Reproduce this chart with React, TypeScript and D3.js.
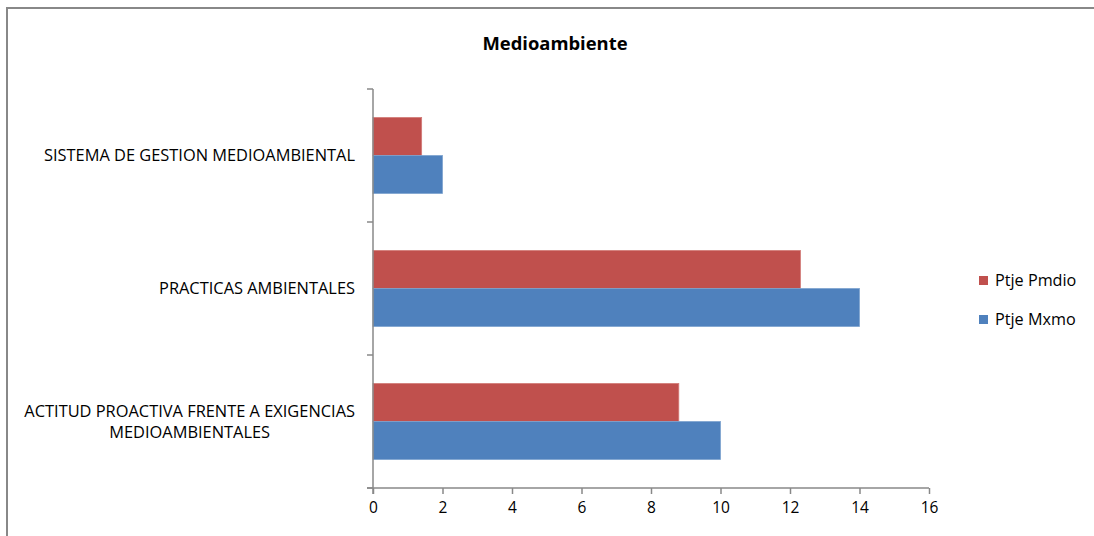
import { useRef, useEffect } from "react";
import * as d3 from "d3";

const categories = [
  "SISTEMA DE GESTION MEDIOAMBIENTAL",
  "PRACTICAS AMBIENTALES",
  "ACTITUD PROACTIVA FRENTE A EXIGENCIAS MEDIOAMBIENTALES",
];
const categoryLines = [
  ["SISTEMA DE GESTION MEDIOAMBIENTAL"],
  ["PRACTICAS AMBIENTALES"],
  ["ACTITUD PROACTIVA FRENTE A EXIGENCIAS", "MEDIOAMBIENTALES"],
];
const seriesNames = ["Ptje Pmdio", "Ptje Mxmo"];
const pmdio = [1.4, 12.3, 8.8];
const mxmo = [2, 14, 10];
const xTicks = [0, 2, 4, 6, 8, 10, 12, 14, 16];

const WIDTH = 1094;
const HEIGHT = 536;
const MARGIN = { top: 89, left: 373 };
const INNER_W = 556;
const INNER_H = 399;
const FONT = "Open Sans, sans-serif";
const COLORS = ["#C0504D", "#4F81BD"];
const STROKES = ["#D27A77", "#7EA3CF"];
const AXIS = "#888888";

export default function App() {
  const svgRef = useRef<SVGSVGElement>(null);

  useEffect(() => {
    const svg = d3.select(svgRef.current);
    svg.selectAll("*").remove();

    // chart border: only top and left edges are inside the picture
    svg.append("path")
      .attr("d", `M7,${HEIGHT}V8H${WIDTH}`)
      .attr("fill", "none")
      .attr("stroke", AXIS).attr("stroke-width", 2);

    svg.append("text")
      .attr("x", 555).attr("y", 50)
      .attr("text-anchor", "middle")
      .attr("font-family", FONT).attr("font-weight", "bold")
      .attr("font-size", "18.4px")
      .text("Medioambiente");

    const x = d3.scaleLinear().domain([0, 16]).range([0, INNER_W]);
    const y = d3.scaleBand().domain(categories).range([0, INNER_H]).paddingInner(0).paddingOuter(0);
    const inner = d3.scaleBand().domain(seriesNames).range([0, y.bandwidth()]).paddingOuter(0.75).paddingInner(0);

    const g = svg.append("g").attr("transform", `translate(${MARGIN.left},${MARGIN.top})`);

    const rows = [pmdio, mxmo];
    rows.forEach((vals, si) => {
      g.append("g")
        .selectAll("rect")
        .data(vals)
        .join("rect")
        .attr("x", x(0))
        .attr("y", (_, i) => (y(categories[i]) ?? 0) + (inner(seriesNames[si]) ?? 0))
        .attr("width", (d) => x(d) - x(0))
        .attr("height", inner.bandwidth())
        .attr("fill", COLORS[si])
        .attr("stroke", STROKES[si])
        .attr("stroke-width", 0.8);
    });

    // X axis
    g.append("g")
      .attr("transform", `translate(0,${INNER_H})`)
      .call(d3.axisBottom(x).tickValues(xTicks).tickSize(6).tickSizeOuter(0).tickPadding(8))
      .call((a) => a.select(".domain").attr("stroke", AXIS).attr("stroke-width", 1.5).attr("d", `M-6,0H${INNER_W}`))
      .call((a) => a.selectAll("line").attr("stroke", AXIS).attr("stroke-width", 1.5))
      .call((a) => a.selectAll("text").attr("fill", "#000").attr("font-size", "15.5px").attr("font-family", FONT));

    // Y axis with ticks at band boundaries
    const bounds = [0, 1, 2, 3].map((i) => i * y.step());
    const ya = g.append("g");
    ya.append("line")
      .attr("x1", 0).attr("x2", 0).attr("y1", 0).attr("y2", INNER_H + 6)
      .attr("stroke", AXIS).attr("stroke-width", 1.5);
    ya.selectAll("line.tk")
      .data(bounds)
      .join("line")
      .attr("class", "tk")
      .attr("x1", -6).attr("x2", 0)
      .attr("y1", (d) => d).attr("y2", (d) => d)
      .attr("stroke", AXIS).attr("stroke-width", 1.5);

    categoryLines.forEach((lines, i) => {
      const cy = (y(categories[i]) ?? 0) + y.bandwidth() / 2;
      const lh = 21;
      const t = g.append("text")
        .attr("text-anchor", "middle")
        .attr("font-family", FONT).attr("font-size", "16.4px")
        .attr("fill", "#000");
      lines.forEach((ln, j) => {
        t.append("tspan")
          .attr("x", 0)
          .attr("y", cy + (j - (lines.length - 1) / 2) * lh)
          .attr("dy", "0.35em")
          .text(ln);
      });
      const tspans = t.selectAll("tspan").nodes() as SVGTextContentElement[];
      const maxW = Math.max(...tspans.map((n) => n.getComputedTextLength()));
      tspans.forEach((n) => d3.select(n).attr("x", -18 - maxW / 2));
    });

    // Legend
    const lg = svg.append("g").attr("transform", "translate(979,276)");
    seriesNames.forEach((name, i) => {
      lg.append("rect")
        .attr("x", 0).attr("y", i * 39)
        .attr("width", 9).attr("height", 9)
        .attr("fill", COLORS[i]);
      lg.append("text")
        .attr("x", 16).attr("y", i * 39 + 4.5)
        .attr("dy", "0.35em")
        .attr("font-family", FONT).attr("font-size", "16.2px")
        .text(name);
    });
  }, []);

  return (
    <svg
      ref={svgRef}
      width={WIDTH}
      height={HEIGHT}
      style={{ position: "absolute", left: 0, top: 0, background: "white" }}
    />
  );
}
